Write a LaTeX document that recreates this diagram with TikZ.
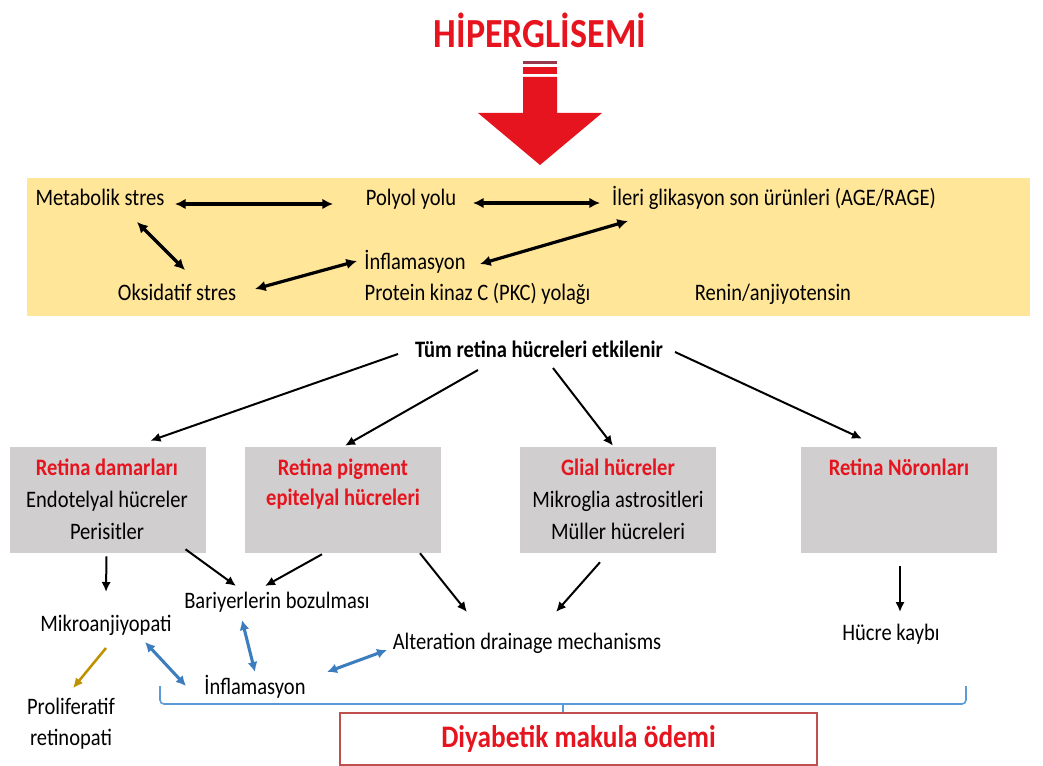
\documentclass[tikz,border=0pt]{standalone}
\usepackage{fontspec}
\setmainfont{Carlito}[FakeStretch=0.87]
\usetikzlibrary{arrows.meta,calc}
\definecolor{hred}{RGB}{230,20,30}
\definecolor{stripe}{RGB}{150,55,75}
\definecolor{ybg}{RGB}{255,230,153}
\definecolor{boxgray}{RGB}{208,206,206}
\definecolor{barrow}{RGB}{60,125,190}
\definecolor{bracec}{RGB}{91,155,213}
\definecolor{goldc}{RGB}{191,144,0}
\definecolor{dmoborder}{RGB}{192,80,77}
\begin{document}
\begin{tikzpicture}[x=0.75pt,y=-0.75pt,
  txt/.style={inner sep=0pt, font=\fontsize{17.7}{21}\selectfont, text height=12.5pt, text depth=3.5pt},
  btxt/.style={txt, font=\fontsize{17.7}{21}\selectfont\bfseries},
  rtxt/.style={btxt, text=hred},
  graybox/.style={fill=boxgray, minimum width=147pt, minimum height=79.5pt, inner sep=0pt},
  dar/.style={{Latex[length=8pt,width=8pt]}-{Latex[length=8pt,width=8pt]}, line width=2.4pt},
  sar/.style={-{Latex[length=7.5pt,width=7pt]}, line width=1.5pt},
  bar/.style={{Latex[length=7.5pt,width=7.5pt]}-{Latex[length=7.5pt,width=7.5pt]}, line width=2.3pt, barrow},
]
\useasboundingbox (0,0) rectangle (1043,766);
% title and big arrow
\node[inner sep=0pt, font=\fontsize{31}{34}\selectfont\bfseries, text=hred] (hyp) at (540,30) {HİPERGLİSEMİ};
\fill[stripe] (523,61) rectangle (557,64.5);
\fill[hred] (523,67.5) rectangle (557,74);
\fill[hred] (523,77) -- (557,77) -- (557,113) -- (602,113) -- (540,165) -- (478,113) -- (523,113) -- cycle;
% yellow panel
\node[fill=ybg, minimum width=752.25pt, minimum height=103.5pt, inner sep=0pt] (panel) at (528.5,247) {};
\node[txt] (met) at (100,200) {Metabolik stres};
\node[txt] (pol) at (411,200) {Polyol yolu};
\node[txt] (age) at (774,200) {İleri glikasyon son ürünleri (AGE/RAGE)};
\node[txt] (inf1) at (415,264) {İnflamasyon};
\node[txt] (oks) at (177,295) {Oksidatif stres};
\node[txt] (pkc) at (477.5,295) {Protein kinaz C (PKC) yolağı};
\node[txt] (ren) at (773,295) {Renin/anjiyotensin};
\draw[dar] ($(met)+(75,4)$) -- ($(pol)+(-78,4)$);
\draw[dar] ($(pol)+(62,3)$) -- ($(age)+(-174,3)$);
\draw[dar] ($(met)+(37,22)$) -- ($(oks)+(8,-25)$);
\draw[dar] ($(oks)+(78,-6)$) -- ($(inf1)+(-58,-3)$);
\draw[dar] ($(inf1)+(65,0)$) -- ($(age)+(-146,21)$);
% retina cells
\node[btxt] (tum) at (539,352) {Tüm retina hücreleri etkilenir};
\node[graybox] (b1) at (107.5,500) {};
\node[graybox] (b2) at (343,500) {};
\node[graybox] (b3) at (618,500) {};
\node[graybox] (b4) at (899,500) {};
\node[rtxt] (b1a) at (107,470) {Retina damarları};
\node[txt] (b1b) at (107,502) {Endotelyal hücreler};
\node[txt] (b1c) at (107,534) {Perisitler};
\node[rtxt] (b2a) at (343,470) {Retina pigment};
\node[rtxt] (b2b) at (343,500) {epitelyal hücreleri};
\node[rtxt] (b3a) at (618,470) {Glial hücreler};
\node[txt] (b3b) at (618,502) {Mikroglia astrositleri};
\node[txt] (b3c) at (618,534) {Müller hücreleri};
\node[rtxt] (b4a) at (899,470) {Retina Nöronları};
\draw[sar] ($(tum)+(-141,2)$) -- ($(b1.north)+(43,-6)$);
\draw[sar] ($(tum)+(-61,18)$) -- ($(b2.north)+(2,-1)$);
\draw[sar] ($(tum)+(14,16)$) -- ($(b3.north)+(-5,-1)$);
\draw[sar] ($(tum)+(136,0)$) -- ($(b4.north)+(-37,-8)$);
% consequences
\node[txt] (mik) at (106,625) {Mikroanjiyopati};
\node[txt] (bar) at (277,602) {Bariyerlerin bozulması};
\node[txt] (alt) at (527,643) {Alteration drainage mechanisms};
\node[txt] (hk) at (891,634) {Hücre kaybı};
\node[txt] (inf2) at (255,688) {İnflamasyon};
\node[inner sep=0pt, align=center, font=\fontsize{17.7}{23.25}\selectfont] (prol) at (71,724) {Proliferatif\\retinopati};
\draw[sar] ($(b1.south)+(-1,3)$) -- ($(mik)+(0,-33)$);
\draw[sar] ($(b1.south)+(78,-4)$) -- ($(bar)+(-41,-16)$);
\draw[sar] ($(b2.south)+(-21,1)$) -- ($(bar)+(-12,-16)$);
\draw[sar] ($(b2.south)+(77,0)$) -- ($(alt)+(-60,-31)$);
\draw[sar] ($(b3.south)+(-18,9)$) -- ($(alt)+(29,-31)$);
\draw[sar] ($(b4.south)+(1,13)$) -- ($(hk)+(9,-22)$);
\draw[bar] ($(mik)+(39,17)$) -- ($(inf2)+(-69,-2)$);
\draw[bar] ($(bar)+(-35,18)$) -- ($(inf2)+(0,-16)$);
\draw[bar] ($(inf2)+(72,-16)$) -- ($(alt)+(-140,7)$);
\draw[sar, goldc, line width=1.9pt] ($(mik)+(0,23)$) -- ($(prol.north)+(2,-10)$);
% brace
\draw[bracec, line width=1.2pt, rounded corners=3pt] (160,686) -- (160,704) -- (966,704) -- (966,686);
\draw[bracec, line width=1.2pt] (563,704) -- (563,712);
% result
\node[draw=dmoborder, line width=0.8pt, minimum width=357.75pt, minimum height=39pt, inner sep=0pt,
      font=\fontsize{23.5}{26}\selectfont\bfseries, text=hred] (dmo) at (578.5,739) {Diyabetik makula ödemi};
\end{tikzpicture}
\end{document}
